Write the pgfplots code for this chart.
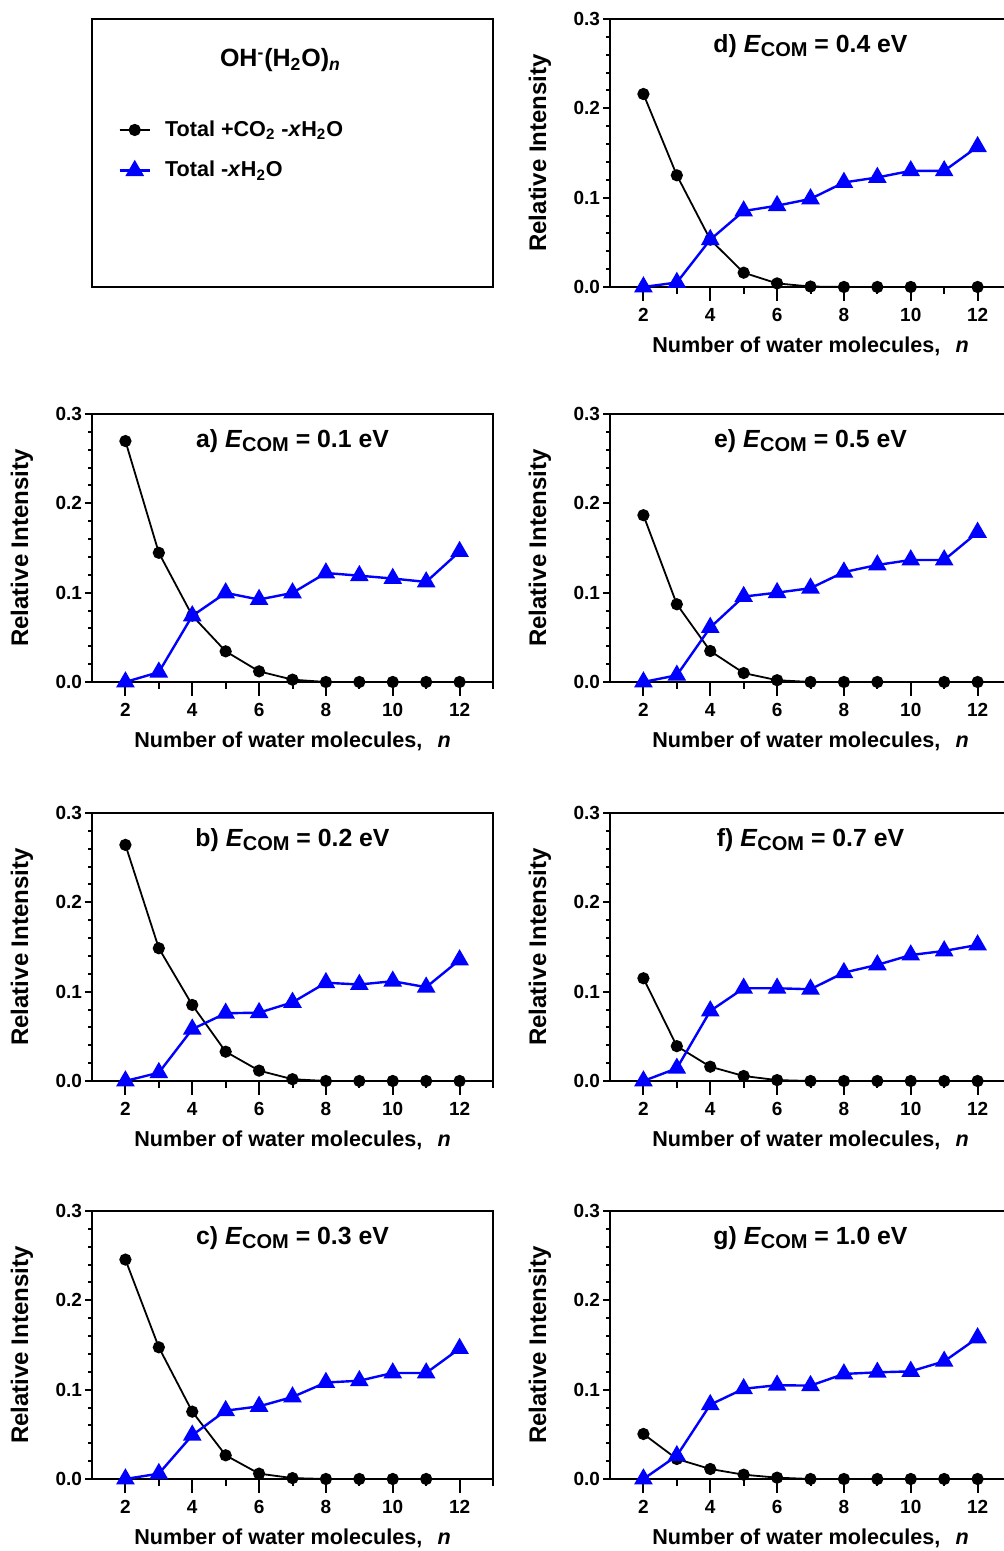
\documentclass[border=0pt]{standalone}
\usepackage{fontspec}
\setmainfont{Liberation Sans}
\usepackage{pgfplots}
\pgfplotsset{compat=1.18}

\pgfplotsset{
  panel/.style={
    scale only axis, width=200.5pt, height=134pt,
    xmin=1, xmax=13, ymin=0, ymax=0.3,
    axis line style={line width=1pt},
    tick style={line width=1pt, black},
    tick align=outside, tick pos=left,
    major tick length=3.5pt, minor tick length=2pt,
    xtick={3,5,...,13}, xticklabels={},
    extra x ticks={2,4,...,12}, extra x tick labels={2,4,6,8,10,12},
    extra x tick style={major tick length=7pt},
    ytick={0,0.1,0.2,0.3}, minor y tick num=4,
    yticklabel style={xshift=2pt, /pgf/number format/.cd, fixed, fixed zerofill, precision=1},
    tick label style={font=\bfseries\fontsize{9.5}{11}\selectfont},
    /pgf/number format/assume math mode=true,
    xlabel={Number of water molecules,\hspace{0.7em}\textit{n}},
    ylabel={Relative Intensity},
    xlabel style={font=\bfseries\fontsize{10.8}{12}\selectfont, at={(axis description cs:0.5,-0.22)}, anchor=center},
    ylabel style={font=\bfseries\fontsize{12}{14}\selectfont, at={(axis description cs:-0.1746,0.5)}, anchor=center},
    clip=false,
  },
  blk/.style={black, line width=0.9pt, mark=*, mark size=2.6pt},
  blu/.style={blue, line width=1.2pt, mark=triangle*, mark size=4.2pt, mark options={solid}},
}
\newcommand\ptitle[2]{\node[font=\bfseries\fontsize{12.4}{14}\selectfont] at (axis description cs:0.5,0.9)
  {#1) \textit{E}\raisebox{-0.35ex}{\fontsize{10}{11}\selectfont COM} = #2 eV};}

\begin{document}
\begin{tikzpicture}
\useasboundingbox (0,0) rectangle (501.5pt,775.5pt);

% legend panel
\begin{axis}[at={(46pt,632pt)}, anchor=south west, scale only axis, width=200.5pt, height=134pt,
  xmin=0, xmax=1, ymin=0, ymax=1, xtick=\empty, ytick=\empty,
  axis line style={line width=1pt},
  legend style={at={(axis description cs:0.065,0.51)}, anchor=west, draw=none, fill=none,
    font=\bfseries\fontsize{10.8}{12}\selectfont, row sep=7pt, inner sep=0pt,
    /tikz/every odd column/.append style={column sep=5pt}},
  legend image code/.code={\draw[#1] (0cm,0cm) -- (0.53cm,0cm);
    \draw[#1, mark repeat=2, mark phase=2] plot coordinates {(0cm,0cm) (0.265cm,0cm) (0.53cm,0cm)};},
  legend cell align=left]
\addlegendimage{blk}
\addlegendentry{Total +CO\textsubscript{2} -\textit{x}H\textsubscript{2}O}
\addlegendimage{blu}
\addlegendentry{Total -\textit{x}H\textsubscript{2}O}
\node[font=\bfseries\fontsize{12.5}{14}\selectfont] at (axis description cs:0.47,0.845)
  {OH\textsuperscript{-}(H\textsubscript{2}O)\textsubscript{\textit{n}}};
\end{axis}

% d
\begin{axis}[panel, at={(305pt,632pt)}, anchor=south west]
\addplot[blk] coordinates {(2,0.216)(3,0.125)(4,0.053)(5,0.016)(6,0.004)(7,0.0005)(8,0)(9,0)(10,0)(12,0)};
\addplot[blu] coordinates {(2,0)(3,0.005)(4,0.053)(5,0.085)(6,0.091)(7,0.0986)(8,0.117)(9,0.1226)(10,0.130)(11,0.130)(12,0.157)};
\ptitle{d}{0.4}
\end{axis}

% a
\begin{axis}[panel, at={(46pt,434.5pt)}, anchor=south west]
\addplot[blk] coordinates {(2,0.2697)(3,0.1446)(4,0.0743)(5,0.0343)(6,0.0119)(7,0.0026)(8,0)(9,0)(10,0)(11,0)(12,0)};
\addplot[blu] coordinates {(2,0)(3,0.011)(4,0.074)(5,0.0997)(6,0.0923)(7,0.0997)(8,0.122)(9,0.119)(10,0.1158)(11,0.112)(12,0.146)};
\ptitle{a}{0.1}
\end{axis}

% e
\begin{axis}[panel, at={(305pt,434.5pt)}, anchor=south west]
\addplot[blk] coordinates {(2,0.1867)(3,0.087)(4,0.0347)(5,0.010)(6,0.002)(7,0)(8,0)(9,0)(11,0)(12,0)};
\addplot[blu] coordinates {(2,0)(3,0.0075)(4,0.061)(5,0.0956)(6,0.100)(7,0.105)(8,0.123)(9,0.131)(10,0.1366)(11,0.1366)(12,0.1675)};
\ptitle{e}{0.5}
\end{axis}

% b
\begin{axis}[panel, at={(46pt,235pt)}, anchor=south west]
\addplot[blk] coordinates {(2,0.2643)(3,0.1486)(4,0.0851)(5,0.0328)(6,0.0116)(7,0.002)(8,0)(9,0)(10,0)(11,0)(12,0)};
\addplot[blu] coordinates {(2,0)(3,0.0093)(4,0.058)(5,0.0758)(6,0.0765)(7,0.088)(8,0.110)(9,0.108)(10,0.1117)(11,0.105)(12,0.1355)};
\ptitle{b}{0.2}
\end{axis}

% f
\begin{axis}[panel, at={(305pt,235pt)}, anchor=south west]
\addplot[blk] coordinates {(2,0.115)(3,0.039)(4,0.016)(5,0.0056)(6,0.001)(7,0)(8,0)(9,0)(10,0)(11,0)(12,0)};
\addplot[blu] coordinates {(2,0)(3,0.0142)(4,0.0784)(5,0.1038)(6,0.1038)(7,0.1027)(8,0.1213)(9,0.130)(10,0.141)(11,0.1456)(12,0.1523)};
\ptitle{f}{0.7}
\end{axis}

% c
\begin{axis}[panel, at={(46pt,36pt)}, anchor=south west]
\addplot[blk] coordinates {(2,0.2456)(3,0.1474)(4,0.0754)(5,0.0265)(6,0.006)(7,0.001)(8,0)(9,0)(10,0)(11,0)};
\addplot[blu] coordinates {(2,0)(3,0.006)(4,0.049)(5,0.0765)(6,0.0813)(7,0.0918)(8,0.108)(9,0.110)(10,0.1187)(11,0.1187)(12,0.146)};
\ptitle{c}{0.3}
\end{axis}

% g
\begin{axis}[panel, at={(305pt,36pt)}, anchor=south west]
\addplot[blk] coordinates {(2,0.0504)(3,0.0224)(4,0.0112)(5,0.0048)(6,0.0015)(7,0)(8,0)(9,0)(10,0)(11,0)(12,0)};
\addplot[blu] coordinates {(2,0)(3,0.026)(4,0.0832)(5,0.101)(6,0.105)(7,0.1045)(8,0.1176)(9,0.1194)(10,0.1205)(11,0.1317)(12,0.158)};
\ptitle{g}{1.0}
\end{axis}
\end{tikzpicture}
\end{document}
